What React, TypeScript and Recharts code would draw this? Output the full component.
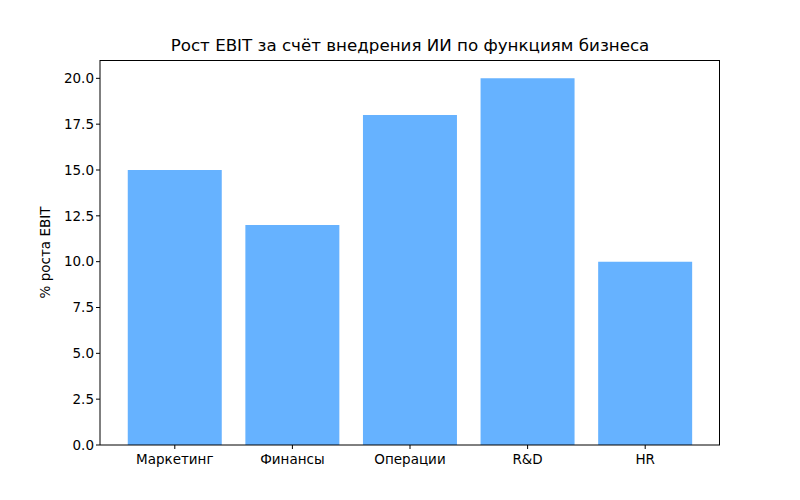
import { BarChart, Bar, XAxis, YAxis, Label } from 'recharts';

const categories = ['Маркетинг', 'Финансы', 'Операции', 'R&D', 'HR'];
const growth = [15, 12, 18, 20, 10];
const yTicks = [0, 2.5, 5, 7.5, 10, 12.5, 15, 17.5, 20];

const data = categories.map((name, i) => ({ name, value: growth[i] }));

const FONT = 'DejaVu Sans, sans-serif';
const tickStyle = { fontSize: 13.5, fontFamily: FONT, fill: '#000' };

const App = () => {
  return (
    <div style={{ position: 'absolute', left: 0, top: 0, width: 800, height: 500, background: '#fff' }}>
      <div
        style={{
          position: 'absolute',
          left: 0,
          width: 820,
          top: 35,
          textAlign: 'center',
          fontFamily: FONT,
          fontSize: 16.7,
          lineHeight: '20px',
          color: '#000',
        }}
      >
        Рост EBIT за счёт внедрения ИИ по функциям бизнеса
      </div>
      <BarChart
        width={800}
        height={500}
        data={data}
        margin={{ top: 60, right: 80, bottom: 25, left: 0 }}
        barCategoryGap="10%"
      >
        <XAxis
          dataKey="name"
          interval={0}
          height={30}
          padding={{ left: 16, right: 16 }}
          tick={tickStyle}
          tickSize={4}
          tickMargin={5}
          stroke="#000"
          tickLine={{ stroke: '#000' }}
        />
        <YAxis
          width={100}
          domain={[0, 21]}
          ticks={yTicks}
          tickFormatter={(v: number) => v.toFixed(1)}
          tick={tickStyle}
          tickSize={4}
          stroke="#000"
          tickLine={{ stroke: '#000' }}
        >
          <Label
            value="% роста EBIT"
            angle={-90}
            position="insideLeft"
            offset={45}
            style={{ textAnchor: 'middle', fontSize: 13.5, fontFamily: FONT, fill: '#000' }}
          />
        </YAxis>
        <Bar dataKey="value" fill="#66b2ff" isAnimationActive={false} />
      </BarChart>
      {/* axes frame (top/right spines) */}
      <div
        style={{
          position: 'absolute',
          left: 100,
          top: 60,
          width: 620,
          height: 385,
          borderTop: '1px solid #000',
          borderRight: '1px solid #000',
          boxSizing: 'border-box',
          pointerEvents: 'none',
        }}
      />
    </div>
  );
};

export default App;
